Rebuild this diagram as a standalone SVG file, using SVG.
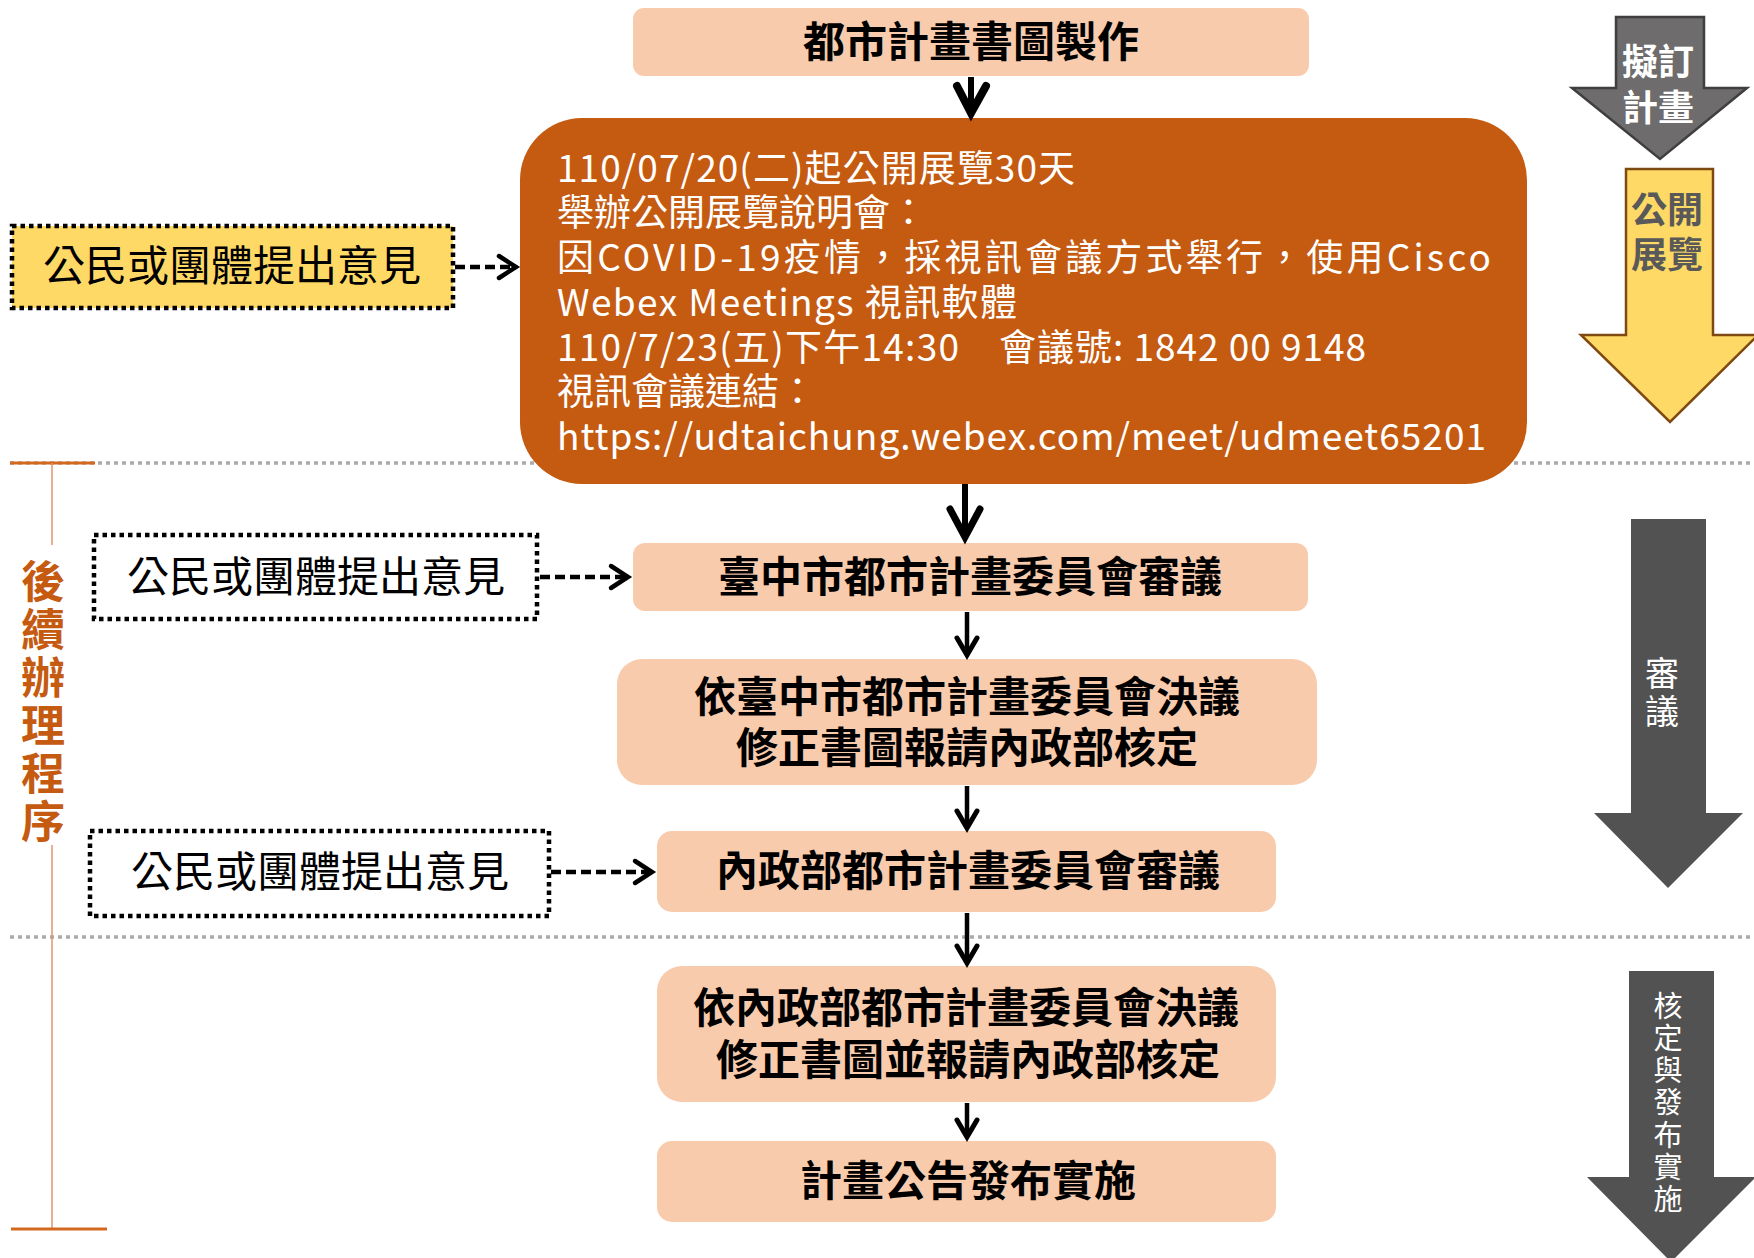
<svg xmlns="http://www.w3.org/2000/svg" width="1754" height="1258" viewBox="0 0 1754 1258">
<style>
text{font-family:"Noto Sans CJK TC","Noto Sans CJK SC",sans-serif}
.box{fill:#F8CBAD}
.bt{font-size:42px;font-weight:700;fill:#000;text-anchor:middle}
.ot{font-size:37px;fill:#fff}
.ct{font-size:42px;fill:#000;text-anchor:middle}
.vt{writing-mode:vertical-rl;text-orientation:upright}
.dot{stroke:#000;stroke-width:4.5;stroke-dasharray:4.5 4}
.sep{stroke:#ABABAB;stroke-width:3.5;stroke-dasharray:4 4;fill:none}
.dash{stroke:#000;stroke-width:4.5;stroke-dasharray:10 5;fill:none}
.chev{stroke:#000;stroke-width:4.5;fill:none;stroke-linecap:round;stroke-linejoin:miter}
.shaft{stroke:#000;fill:none}
.vh{fill:none;stroke:#000;stroke-linecap:round;stroke-linejoin:miter}
</style>

<!-- separators and side bracket -->
<g id="separators">
<line class="sep" x1="10" y1="463" x2="1754" y2="463"/>
<line class="sep" x1="10" y1="937" x2="1754" y2="937"/>
<line x1="10" y1="463" x2="95" y2="463" stroke="#D2691E" stroke-width="3"/>
<line x1="52" y1="463" x2="52" y2="545" stroke="#E0956C" stroke-width="1.5"/>
<line x1="52" y1="845" x2="52" y2="1229" stroke="#E0956C" stroke-width="1.5"/>
<line x1="11" y1="1229" x2="107" y2="1229" stroke="#D2691E" stroke-width="3"/>
<text class="vt" x="43" y="559" font-size="44" font-weight="700" fill="#C55A11" letter-spacing="4">後續辦理程序</text>
</g>

<g id="n-top">
<rect class="box" x="633" y="8" width="676" height="68" rx="11"/>
<text class="bt" x="971" y="57">都市計畫書圖製作</text>
</g>

<g id="n-exhibit">
<rect x="520" y="118" width="1007" height="366" rx="62" fill="#C55A11"/>
<text class="ot"><tspan x="557" y="182" textLength="518" lengthAdjust="spacing">110/07/20(二)起公開展覽30天</tspan><tspan x="557" y="226">舉辦公開展覽說明會：</tspan><tspan x="557" y="271" textLength="934" lengthAdjust="spacing">因COVID-19疫情，採視訊會議方式舉行，使用Cisco</tspan><tspan x="557" y="316" textLength="460" lengthAdjust="spacing">Webex Meetings 視訊軟體</tspan><tspan x="557" y="361" textLength="402" lengthAdjust="spacing">110/7/23(五)下午14:30</tspan><tspan x="999" y="361" textLength="367" lengthAdjust="spacing">會議號: 1842 00 9148</tspan><tspan x="557" y="405">視訊會議連結：</tspan><tspan x="557" y="450" textLength="929" lengthAdjust="spacing">https://udtaichung.webex.com/meet/udmeet65201</tspan></text>
</g>

<g id="n-city">
<rect class="box" x="633" y="543" width="675" height="68" rx="12"/>
<text class="bt" x="970" y="592">臺中市都市計畫委員會審議</text>
</g>

<g id="n-city-fix">
<rect class="box" x="617" y="659" width="700" height="126" rx="25"/>
<text class="bt"><tspan x="967" y="712">依臺中市都市計畫委員會決議</tspan><tspan x="967" y="763">修正書圖報請內政部核定</tspan></text>
</g>

<g id="n-moi">
<rect class="box" x="657" y="831" width="619" height="81" rx="15"/>
<text class="bt" x="968" y="886">內政部都市計畫委員會審議</text>
</g>

<g id="n-moi-fix">
<rect class="box" x="657" y="966" width="619" height="136" rx="25"/>
<text class="bt"><tspan x="966" y="1023">依內政部都市計畫委員會決議</tspan><tspan x="968" y="1075">修正書圖並報請內政部核定</tspan></text>
</g>

<g id="n-publish">
<rect class="box" x="657" y="1141" width="619" height="81" rx="15"/>
<text class="bt" x="968" y="1196">計畫公告發布實施</text>
</g>

<g id="n-opinion1">
<rect x="12" y="226" width="441" height="82" fill="#FFD966" class="dot"/>
<text class="ct" x="232" y="281">公民或團體提出意見</text>
</g>

<g id="n-opinion2">
<rect x="94" y="535" width="443" height="84" fill="#fff" class="dot"/>
<text class="ct" x="316" y="592">公民或團體提出意見</text>
</g>

<g id="n-opinion3">
<rect x="90" y="831" width="459" height="85" fill="#fff" class="dot"/>
<text class="ct" x="320" y="887">公民或團體提出意見</text>
</g>

<!-- right side phase arrows -->
<g id="n-phase1">
<path d="M1616,17 H1704 V88 H1747 L1660,159 L1572,88 H1616 Z" fill="#6E6C6C" stroke="#3F3F3F" stroke-width="2.5"/>
<text font-size="36" font-weight="700" fill="#fff" text-anchor="middle"><tspan x="1658" y="75">擬訂</tspan><tspan x="1658" y="121">計畫</tspan></text>
</g>

<g id="n-phase2">
<path d="M1626,169 H1713 V335 H1758 L1670,422 L1581,335 H1626 Z" fill="#FFD966" stroke="#7F4A12" stroke-width="2.5"/>
<text font-size="36" font-weight="700" fill="#595959" text-anchor="middle"><tspan x="1667" y="223">公開</tspan><tspan x="1667" y="268">展覽</tspan></text>
</g>

<g id="n-phase3">
<path d="M1631,519 H1706 V813 H1743 L1668,888 L1594,813 H1631 Z" fill="#525252"/>
<text class="vt" x="1662" y="656" font-size="34" fill="#fff" letter-spacing="4">審議</text>
</g>

<g id="n-phase4">
<path d="M1629,971 H1714 V1177 H1756 L1671,1262 L1587,1177 H1629 Z" fill="#525252"/>
<text class="vt" x="1668" y="991" font-size="29" fill="#fff" letter-spacing="3.3">核定與發布實施</text>
</g>

<g id="connectors">
<!-- solid down arrows -->
<line class="shaft" x1="971" y1="77" x2="971" y2="112" stroke-width="6"/>
<polyline class="vh" points="957,86 971,113 986,86" stroke-width="8"/>

<line class="shaft" x1="965" y1="484" x2="965" y2="536" stroke-width="6"/>
<polyline class="vh" points="950,509 965,537 980,509" stroke-width="7"/>

<line class="shaft" x1="967" y1="612" x2="967" y2="654" stroke-width="4.5"/>
<polyline class="vh" points="957,638 967,655 977,638" stroke-width="5"/>

<line class="shaft" x1="967" y1="786" x2="967" y2="827" stroke-width="4.5"/>
<polyline class="vh" points="957,811 967,828 977,811" stroke-width="5"/>

<line class="shaft" x1="967" y1="913" x2="967" y2="962" stroke-width="4.5"/>
<polyline class="vh" points="957,946 967,963 977,946" stroke-width="5"/>

<line class="shaft" x1="967" y1="1103" x2="967" y2="1136" stroke-width="4.5"/>
<polyline class="vh" points="957,1120 967,1137 977,1120" stroke-width="5"/>

<!-- dashed opinion arrows -->
<line class="dash" x1="455" y1="267" x2="514" y2="267"/>
<polyline class="chev" points="499,256 516,267 499,278"/>

<line class="dash" x1="540" y1="577" x2="626" y2="577"/>
<polyline class="chev" points="611,566 628,577 611,588"/>

<line class="dash" x1="551" y1="872" x2="650" y2="872"/>
<polyline class="chev" points="635,861 652,872 635,883"/>
</g>
</svg>
